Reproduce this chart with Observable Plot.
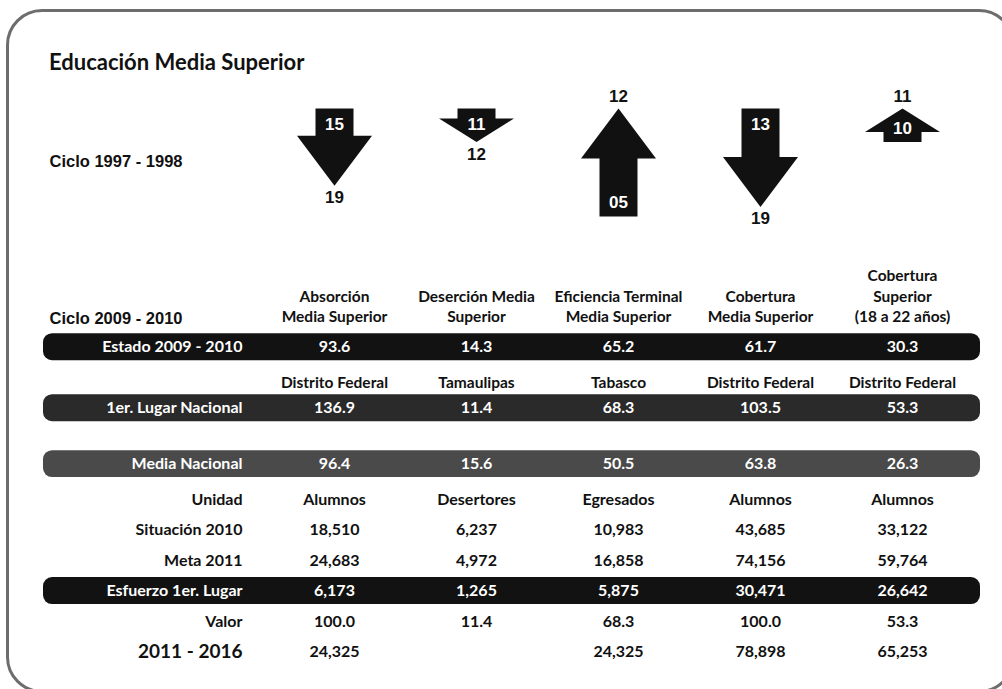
<!DOCTYPE html>
<html><head><meta charset="utf-8">
<script src="https://cdn.jsdelivr.net/npm/d3@7"></script>
<script src="https://cdn.jsdelivr.net/npm/@observablehq/plot@0.6"></script>
<style>
html,body{margin:0;padding:0;background:#fff;overflow:hidden;width:1002px;height:689px;}
#wrap{position:relative;width:1002px;height:689px;overflow:hidden;}
#frame{position:absolute;left:6px;top:9px;width:1009px;height:684px;box-sizing:border-box;border:3px solid #6d6d6d;border-radius:36px;}
#title{position:absolute;left:49px;top:49px;margin:0;font-family:Lato,sans-serif;font-weight:bold;font-size:22px;color:#111;line-height:26px;}
#arrows{position:absolute;left:0;top:80px;}
#table{position:absolute;left:0;top:250px;}
</style></head>
<body><div id="wrap"><div id="frame"></div><h2 id="title">Educación Media Superior</h2><div id="arrows"></div><div id="table"></div></div>
<script>
// ---- data ----
const indicators = ["Absorción Media Superior","Deserción Media Superior","Eficiencia Terminal Media Superior","Cobertura Media Superior","Cobertura Superior (18 a 22 años)"];
const headerLabels = ["Absorción\nMedia Superior","Deserción Media\nSuperior","Eficiencia Terminal\nMedia Superior","Cobertura\nMedia Superior","Cobertura\nSuperior\n(18 a 22 años)"];
const rank1997 = [15, 11, 5, 13, 10];
const rank2009 = [19, 12, 12, 19, 11];
const arrowDir = ["down","down","up","down","up"];
const estado2009 = [93.6, 14.3, 65.2, 61.7, 30.3];
const primerLugarEstado = ["Distrito Federal","Tamaulipas","Tabasco","Distrito Federal","Distrito Federal"];
const primerLugar = [136.9, 11.4, 68.3, 103.5, 53.3];
const mediaNacional = [96.4, 15.6, 50.5, 63.8, 26.3];
const unidad = ["Alumnos","Desertores","Egresados","Alumnos","Alumnos"];
const situacion2010 = [18510, 6237, 10983, 43685, 33122];
const meta2011 = [24683, 4972, 16858, 74156, 59764];
const esfuerzo = [6173, 1265, 5875, 30471, 26642];
const valor = [100.0, 11.4, 68.3, 100.0, 53.3];
const periodo = [24325, null, 24325, 78898, 65253];
const cicloAnterior = "Ciclo 1997 - 1998";
const cicloActual = "Ciclo 2009 - 2010";
const rowLabels = {estado:"Estado 2009 - 2010", primer:"1er. Lugar Nacional", media:"Media Nacional", unidad:"Unidad", situacion:"Situación 2010", meta:"Meta 2011", esfuerzo:"Esfuerzo 1er. Lugar", valor:"Valor", periodo:"2011 - 2016"};

// ---- styles ----
const colRange = [334, 902];
const arial = {fontFamily: "'Liberation Sans', Arial, sans-serif", fontWeight: "bold"};
const lato = {fontFamily: "Lato, sans-serif", fontWeight: "bold"};
const blockArrow = {
  draw(context, l, r) {
    const head = Math.min(50, l * 0.7), hw = 37.5, s = l - head;
    context.moveTo(-r, 0);
    context.lineTo(-r, -s);
    context.lineTo(-hw, -s);
    context.lineTo(0, -l);
    context.lineTo(hw, -s);
    context.lineTo(r, -s);
    context.lineTo(r, 0);
    context.closePath();
  }
};
const f2 = d3.format("02d");

// ---- arrows plot ----
const arrows = indicators.map((k, i) => ({k, from: rank1997[i], to: rank2009[i], dir: arrowDir[i], diff: Math.abs(rank2009[i] - rank1997[i])}));
const down = arrows.filter(d => d.dir === "down");
const up = arrows.filter(d => d.dir === "up");
const plotA = Plot.plot({
  width: 1002, height: 170, marginTop: 28, marginLeft: 49, marginRight: 0, marginBottom: 0,
  x: {type: "point", domain: indicators, range: colRange, padding: 0, axis: null},
  y: {type: "pow", exponent: 0.6, domain: [0, 7], range: [28, 136], axis: null},
  length: {type: "pow", exponent: 0.6, domain: [0, 7], range: [0, 108]},
  marks: [
    Plot.vector(down, {x: "k", length: "diff", rotate: 180, anchor: "start", frameAnchor: "top", shape: blockArrow, r: 19, fill: "#111", stroke: "none"}),
    Plot.vector(up, {x: "k", length: "diff", rotate: 0, anchor: "end", frameAnchor: "top", shape: blockArrow, r: 19, fill: "#111", stroke: "none"}),
    Plot.text(down, {x: "k", y: () => 0, text: d => f2(d.from), fill: "white", dy: 16, fontSize: 17, ...arial}),
    Plot.text(down, {x: "k", y: "diff", text: d => f2(d.to), fill: "#111", dy: 12, fontSize: 17, ...arial}),
    Plot.text(up, {x: "k", y: () => 0, text: d => f2(d.to), fill: "#111", dy: -12, fontSize: 17, ...arial}),
    Plot.text(up, {x: "k", y: "diff", text: d => f2(d.from), fill: "white", dy: -14, fontSize: 17, ...arial}),
    Plot.text([cicloAnterior], {text: d => d, frameAnchor: "top-left", dy: 47, textAnchor: "start", fill: "#111", fontSize: 16.5, ...arial})
  ]
});
document.getElementById("arrows").appendChild(plotA);

// ---- table plot ----
const rowKeys = ["header","estado","estados","primer","gap","media","unidad","situacion","meta","esfuerzo","valor","periodo"];
const ri = k => rowKeys.indexOf(k);
const nudge = {header: 5, estados: 5, media: -5};
const barFill = {estado: "#121212", primer: "#2a2a2a", media: "#4a4a4a", esfuerzo: "#121212"};
const fmt1 = d3.format(".1f"), fmtN = d3.format(",");
const rows = [
  {key: "estado", values: estado2009, f: fmt1},
  {key: "estados", values: primerLugarEstado, f: d => d},
  {key: "primer", values: primerLugar, f: fmt1},
  {key: "media", values: mediaNacional, f: fmt1},
  {key: "unidad", values: unidad, f: d => d},
  {key: "situacion", values: situacion2010, f: fmtN},
  {key: "meta", values: meta2011, f: fmtN},
  {key: "esfuerzo", values: esfuerzo, f: fmtN},
  {key: "valor", values: valor, f: fmt1},
  {key: "periodo", values: periodo, f: fmtN}
];
const marks = [];
for (const k of Object.keys(barFill)) {
  marks.push(Plot.rect([k], {y1: d => ri(d) - 0.5, y2: d => ri(d) + 0.5, insetTop: 1.75, insetBottom: 1.75, rx: 9, fill: barFill[k], dy: nudge[k] || 0}));
}
marks.push(Plot.text(indicators, {x: d => d, y: () => ri("header"), text: (d, i) => headerLabels[i], lineAnchor: "bottom", lineHeight: 1.3, dy: nudge.header, fill: "#111", fontSize: 15.5, ...lato}));
marks.push(Plot.text([cicloActual], {y: () => ri("header"), text: d => d, frameAnchor: "left", dx: 6, dy: 2, textAnchor: "start", fill: "#111", fontSize: 16.5, ...arial}));
for (const r of rows) {
  const onBar = r.key in barFill;
  marks.push(Plot.text(indicators, {x: d => d, y: () => ri(r.key), text: (d, i) => r.values[i] == null ? null : r.f(r.values[i]), filter: (d, i) => r.values[i] != null, fill: onBar ? "white" : "#111", dy: nudge[r.key] || 0, fontSize: r.key === "estados" ? 15.5 : 16, ...lato}));
  if (rowLabels[r.key]) {
    marks.push(Plot.text([rowLabels[r.key]], {y: () => ri(r.key), text: d => d, frameAnchor: "left", dx: 199, textAnchor: "end", fill: onBar ? "white" : "#111", dy: nudge[r.key] || 0, fontSize: r.key === "periodo" ? 19 : 16, ...lato}));
  }
}
const plotT = Plot.plot({
  width: 1002, height: 439, marginLeft: 43, marginRight: 22, marginTop: 0, marginBottom: 0,
  x: {type: "point", domain: indicators, range: colRange, padding: 0, axis: null},
  y: {domain: [1, 11], range: [96.7, 401.5], axis: null},
  marks
});
document.getElementById("table").appendChild(plotT);
</script>
</body></html>
